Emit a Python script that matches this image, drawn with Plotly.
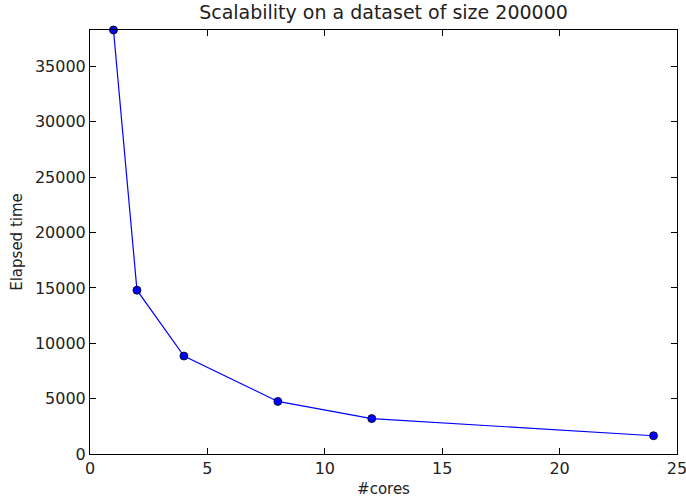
import plotly.graph_objects as go

cores = [1, 2, 4, 8, 12, 24]
elapsed = [38300, 14800, 8850, 4750, 3200, 1650]
x_ticks = [0, 5, 10, 15, 20, 25]
y_ticks = [0, 5000, 10000, 15000, 20000, 25000, 30000, 35000]

fig = go.Figure()
fig.add_trace(go.Scatter(
    x=cores, y=elapsed, mode="lines+markers",
    line=dict(color="#0000ff", width=1.2),
    marker=dict(color="#0000ff", size=8, line=dict(color="black", width=0.8)),
    cliponaxis=False,
))

font = "DejaVu Sans"
txt = "#222222"
fig.update_layout(
    width=686, height=500,
    margin=dict(l=90, r=9, t=30, b=46, autoexpand=False),
    paper_bgcolor="white", plot_bgcolor="white",
    showlegend=False,
    title=dict(text="Scalability on a dataset of size 200000", x=0.5, xref="paper",
               y=1, yref="container", yanchor="top", pad=dict(t=6),
               font=dict(family=font, size=19, color=txt)),
    font=dict(family=font, size=15, color=txt),
)
axis_common = dict(
    showgrid=False, zeroline=False, showline=True, linecolor="black", linewidth=1,
    mirror="allticks", ticks="inside", ticklen=6, tickcolor="black", tickwidth=1,
    tickfont=dict(family=font, size=16, color=txt), automargin=False,
    ticklabeloverflow="allow",
)
fig.update_xaxes(range=[0, 25], tickvals=x_ticks, ticktext=[str(v) for v in x_ticks],
                 title=dict(text="#cores", standoff=6, font=dict(family=font, size=15, color=txt)),
                 **axis_common)
fig.update_yaxes(range=[0, 38300], tickvals=y_ticks, ticktext=[str(v) for v in y_ticks],
                 title=dict(text="Elapsed time", standoff=8, font=dict(family=font, size=15, color=txt)),
                 **axis_common)

fig.write_html("out.html")
